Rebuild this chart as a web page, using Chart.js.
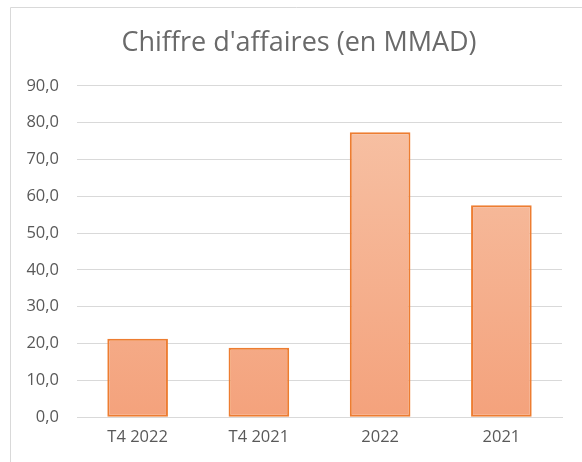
<!DOCTYPE html>
<html>
<head>
<meta charset="utf-8">
<script src="https://cdn.jsdelivr.net/npm/chart.js@4/dist/chart.umd.min.js"></script>
<style>
html,body{margin:0;padding:0;background:#fff;}
#wrap{position:relative;width:582px;height:462px;}
</style>
</head>
<body>
<div id="wrap"><canvas id="c" width="582" height="462"></canvas></div>
<script>
const categories = ["T4 2022", "T4 2021", "2022", "2021"];
const chiffreAffaires = [21.3, 18.9, 77.4, 57.6];
const yTicks = [0, 10, 20, 30, 40, 50, 60, 70, 80, 90];
const titleText = "Chiffre d'affaires (en MMAD)";

const FONT = "'Open Sans', Lato, 'Liberation Sans', sans-serif";

const framePlugin = {
  id: 'frame',
  beforeDraw(chart) {
    const ctx = chart.ctx;
    ctx.save();
    ctx.strokeStyle = '#d9d9d9';
    ctx.lineWidth = 1;
    ctx.beginPath();
    ctx.moveTo(10.5, 470);
    ctx.lineTo(10.5, 7.5);
    ctx.lineTo(600, 7.5);
    ctx.stroke();
    ctx.restore();
  }
};

function barGradient(context) {
  const chart = context.chart;
  const area = chart.chartArea;
  if (!area) return '#F5B18E';
  const g = chart.ctx.createLinearGradient(0, area.top, 0, area.bottom);
  g.addColorStop(0, '#F7C4A8');
  g.addColorStop(1, '#F4A27C');
  return g;
}

new Chart(document.getElementById('c'), {
  type: 'bar',
  data: {
    labels: categories,
    datasets: [{
      data: chiffreAffaires,
      backgroundColor: barGradient,
      borderColor: '#ED7D31',
      borderWidth: 2,
      borderSkipped: false,
      categoryPercentage: 1.0,
      barPercentage: 0.5
    }]
  },
  options: {
    responsive: false,
    animation: false,
    layout: { padding: { left: 16, right: 0, top: 7, bottom: 5 } },
    plugins: {
      legend: { display: false },
      tooltip: { enabled: false },
      title: {
        display: true,
        text: titleText,
        color: '#6a6a6a',
        font: { family: FONT, size: 27, weight: 'normal' },
        padding: { top: 20.5, bottom: 26 }
      }
    },
    scales: {
      x: {
        grid: { display: false, drawTicks: false },
        border: { display: true, color: '#d9d9d9' },
        ticks: { color: '#595959', font: { family: FONT, size: 16.5 }, padding: 10 }
      },
      y: {
        min: 0,
        max: 90,
        afterBuildTicks(scale) { scale.ticks = yTicks.map(v => ({ value: v })); },
        afterFit(scale) { scale.width = 61; },
        grid: { color: '#d9d9d9', drawTicks: false, lineWidth: 1 },
        border: { display: false },
        ticks: {
          color: '#595959',
          font: { family: FONT, size: 16.5 },
          padding: 18,
          callback: v => v.toFixed(1).replace('.', ',')
        }
      },
      yRightSpace: {
        position: 'right',
        display: true,
        afterFit(scale) { scale.width = 20; },
        grid: { display: false, drawTicks: false },
        border: { display: false },
        ticks: { display: false }
      }
    }
  },
  plugins: [framePlugin]
});
</script>
</body>
</html>
